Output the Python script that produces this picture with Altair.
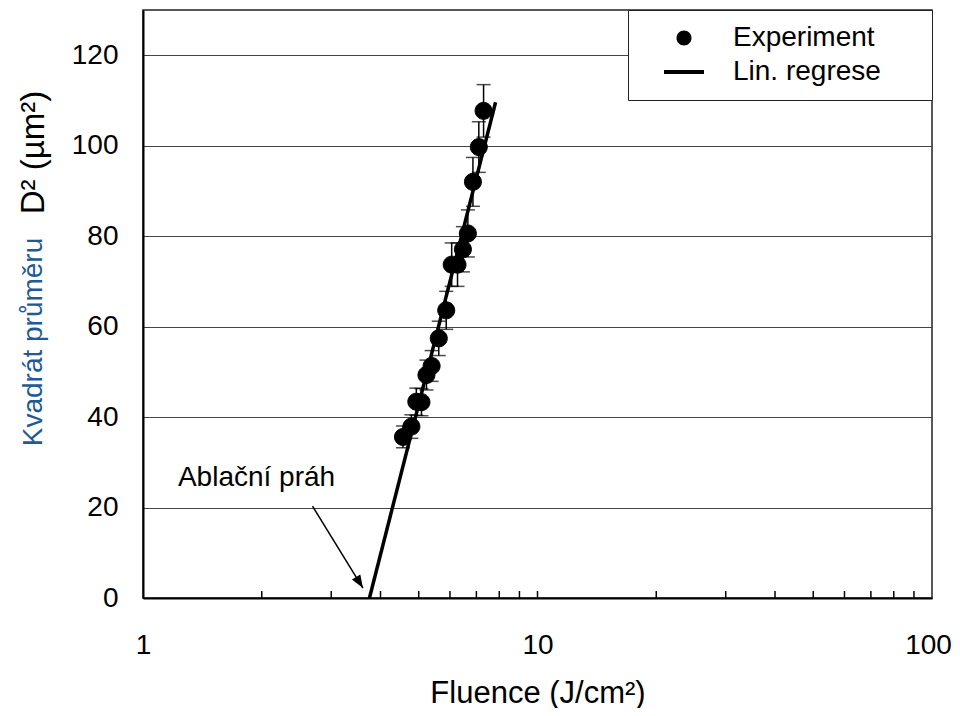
import altair as alt
import pandas as pd

# ---- data ----
fluence = [4.56, 4.79, 4.93, 5.08, 5.23, 5.39, 5.62, 5.87, 6.06, 6.27, 6.47, 6.66, 6.86, 7.10, 7.30]
d2 = [35.6, 37.9, 43.4, 43.3, 49.3, 51.3, 57.4, 63.6, 73.7, 73.7, 77.1, 80.6, 92.0, 99.7, 107.7]
d2_err = [2.4, 2.6, 3.0, 3.0, 3.3, 3.4, 3.8, 4.2, 4.8, 4.8, 5.0, 5.2, 5.4, 5.6, 5.8]

reg_fluence = [3.75, 7.83]
reg_d2 = [0.0, 109.6]

x_labels = [1, 10, 100]
x_minor = [2, 3, 4, 5, 6, 7, 8, 9, 10, 20, 30, 40, 50, 60, 70, 80, 90]
y_ticks = [0, 20, 40, 60, 80, 100, 120]

arrow_start = [2.69, 20.3]
arrow_tip = [3.61, 2.2]
annot_pos = [1.226, 26.5]
annot_text = "Ablační práh"

series_names = ["Experiment", "Lin. regrese"]

FONT = "Liberation Sans"
W, H = 789, 588

pts = pd.DataFrame({"F": fluence, "D2": d2, "err": d2_err,
                    "series": [series_names[0]] * len(fluence)})
reg = pd.DataFrame({"F": reg_fluence, "D2": reg_d2})
minor = pd.DataFrame({"F": x_minor})
arrow = pd.DataFrame({"F": [arrow_start[0]], "D2": [arrow_start[1]],
                      "F2": [arrow_tip[0]], "D22": [arrow_tip[1]]})
tip = pd.DataFrame({"F": [arrow_tip[0]], "D2": [arrow_tip[1]]})
annot = pd.DataFrame({"F": [annot_pos[0]], "D2": [annot_pos[1]], "t": [annot_text]})

xscale = alt.Scale(type="log", domain=[1, 100])
yscale = alt.Scale(domain=[0, 130], nice=False, zero=True)

x_main = alt.X("F:Q", scale=xscale,
               axis=alt.Axis(values=x_labels, format="d", ticks=False, grid=False,
                             labelPadding=33, title="Fluence (J/cm²)",
                             titleY=104, titleBaseline="alphabetic",
                             titleFontSize=31, labelFlush=False,
                             labelOffset={"condition": {"test": "datum.value == 100",
                                                        "value": -4},
                                          "value": 0}))
y_main = alt.Y("D2:Q", scale=yscale,
               axis=alt.Axis(values=y_ticks, ticks=False, grid=True,
                             labelPadding=25, title="D² (µm²)",
                             titleAngle=270, titleX=-100, titleY=142,
                             titleAlign="center", titleBaseline="alphabetic",
                             titleFontSize=33))

circle_path = "M-0.75,0A0.75,0.75,0,1,1,0.75,0A0.75,0.75,0,1,1,-0.75,0Z"
line_path = "M-2,-0.2L2,-0.2L2,0.2L-2,0.2Z"

base_pts = alt.Chart(pts)

errbars = base_pts.transform_calculate(
    lo="datum.D2 - datum.err", hi="datum.D2 + datum.err"
).mark_rule(color="black", strokeWidth=1.5).encode(
    x=alt.X("F:Q", scale=xscale), y=alt.Y("lo:Q", scale=yscale), y2="hi:Q")

caps_hi = base_pts.transform_calculate(hi="datum.D2 + datum.err").mark_tick(
    color="black", orient="horizontal", size=14, thickness=1.5).encode(
    x=alt.X("F:Q", scale=xscale), y=alt.Y("hi:Q", scale=yscale))
caps_lo = base_pts.transform_calculate(lo="datum.D2 - datum.err").mark_tick(
    color="black", orient="horizontal", size=14, thickness=1.5).encode(
    x=alt.X("F:Q", scale=xscale), y=alt.Y("lo:Q", scale=yscale))

reg_line = alt.Chart(reg).mark_line(color="black", strokeWidth=3.5).encode(
    x=alt.X("F:Q", scale=xscale), y=alt.Y("D2:Q", scale=yscale))

points = base_pts.mark_point(filled=True, color="black", opacity=1, size=514,
                             stroke="black", strokeWidth=1).encode(
    x=x_main, y=y_main,
    shape=alt.Shape(
        "series:N",
        scale=alt.Scale(domain=series_names, range=[circle_path, line_path]),
        legend=alt.Legend(title="I", titleOrient="right", titlePadding=29,
                          titleColor="white", titleOpacity=0, titleFontSize=28,
                          titleFont=FONT,
                          orient="top-right", offset=0, padding=14,
                          strokeColor="#222", fillColor="white",
                          labelFont=FONT, labelFontSize=28, labelColor="black",
                          labelOffset=35, symbolOffset=28, symbolSize=400,
                          symbolStrokeWidth=0, symbolFillColor="black",
                          rowPadding=6, labelLimit=400)))

minor_ticks = alt.Chart(minor).mark_rule(color="black", strokeWidth=1.5).encode(
    x=alt.X("F:Q", scale=xscale), y=alt.value(H), y2=alt.value(H - 7))

arrow_shaft = alt.Chart(arrow).mark_rule(color="black", strokeWidth=1.5).encode(
    x=alt.X("F:Q", scale=xscale), y=alt.Y("D2:Q", scale=yscale),
    x2="F2:Q", y2="D22:Q")

arrow_head = alt.Chart(tip).mark_point(
    shape="M0,0L-0.38,-1L0.38,-1Z", filled=True, color="black", opacity=1,
    size=676, angle=328.3).encode(
    x=alt.X("F:Q", scale=xscale), y=alt.Y("D2:Q", scale=yscale))

annot_txt = alt.Chart(annot).mark_text(
    align="left", baseline="middle", font=FONT, fontSize=28, color="black").encode(
    x=alt.X("F:Q", scale=xscale), y=alt.Y("D2:Q", scale=yscale), text="t:N")

ytitle_blue = alt.Chart(annot).mark_text(
    angle=270, align="center", baseline="alphabetic", font=FONT, fontSize=28,
    color="#1d5a96").encode(
    x=alt.value(-101), y=alt.value(332), text=alt.value("Kvadrát průměru"))

chart = alt.layer(
    points, errbars, caps_hi, caps_lo, reg_line,
    minor_ticks, arrow_shaft, arrow_head, annot_txt, ytitle_blue
).properties(
    width=W, height=H,
    autosize=alt.AutoSizeParams(type="none"),
    padding={"left": 135, "top": 2, "right": 20, "bottom": 110},
    background="white",
).configure_view(
    stroke="#222", strokeWidth=1.5
).configure_axis(
    labelFont=FONT, labelFontSize=28, labelColor="black",
    titleFont=FONT, titleFontWeight="normal", titleColor="black",
    domainColor="black", domainWidth=2,
    gridColor="#444", gridWidth=1.2, gridOpacity=1,
)

chart.save("out.html", embed_options={"renderer": "svg", "actions": False})
